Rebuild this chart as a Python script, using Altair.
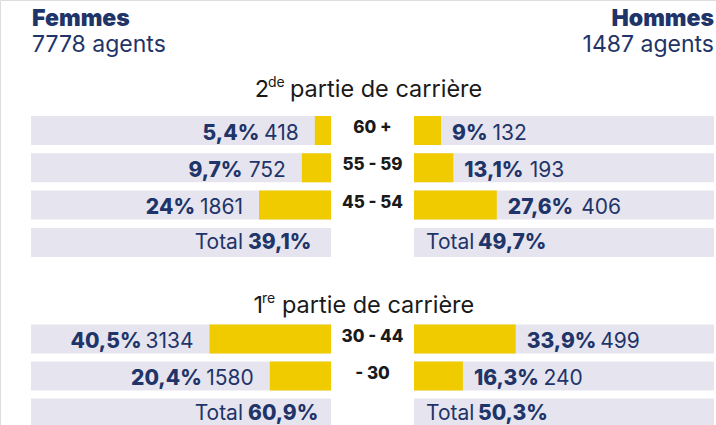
import altair as alt
import pandas as pd

# ---------------- data ----------------
ages = ["60 +", "55 - 59", "45 - 54", "30 - 44", "- 30"]
age_section = [0, 0, 0, 1, 1]
femmes_pct = [5.4, 9.7, 24.0, 40.5, 20.4]
femmes_n = [418, 752, 1861, 3134, 1580]
hommes_pct = [9.0, 13.1, 27.6, 33.9, 16.3]
hommes_n = [132, 193, 406, 499, 240]
femmes_total = [39.1, 60.9]
hommes_total = [49.7, 50.3]
section_num = ["2", "1"]
section_sup = ["de", "re"]
section_text = "partie de carrière"
femmes_header = ["Femmes", "7778 agents"]
hommes_header = ["Hommes", "1487 agents"]

# ---------------- layout ----------------
W, H = 716, 425
PX = 3.0               # pixels per percent
CENTER = 372.5         # pixel position of the centre axis
GAP = 41.5 / PX        # half gap between the two panels (percent units)
FIRST_ROW = [130.5, 339.0]
PITCH = [37.3, 37.0]
BAR_H = 29
NAVY = "#1f3468"
YELLOW = "#EFCB00"
PANEL = "#E6E5EF"
BLACK = "#1a1a1a"
FONT = "Inter"
VAL_SIZE = 21

BOLD_W = {"1": 9.5, ",": 6, "%": 22}
REG_W = {"1": 8.5}


def bold_w(s):
    return sum(BOLD_W.get(c, 13.5) for c in s)


def reg_w(s):
    return sum(REG_W.get(c, 12.5) for c in s)


def fmt(v):
    return ("%g" % v).replace(".", ",") + "%"


def u(px):  # pixel offset -> percent units
    return px / PX


rows_bg, rows_bar, texts = [], [], []
row_in_section = [0, 0]
for i, age in enumerate(ages):
    s = age_section[i]
    yc = FIRST_ROW[s] + PITCH[s] * row_in_section[s]
    row_in_section[s] += 1
    rows_bg.append(dict(x=-GAP - 100, x2=-GAP, y=yc - BAR_H / 2, y2=yc + BAR_H / 2))
    rows_bg.append(dict(x=GAP, x2=GAP + 100, y=yc - BAR_H / 2, y2=yc + BAR_H / 2))
    rows_bar.append(dict(x=-GAP - femmes_pct[i], x2=-GAP, y=yc - BAR_H / 2, y2=yc + BAR_H / 2))
    rows_bar.append(dict(x=GAP, x2=GAP + hommes_pct[i], y=yc - BAR_H / 2, y2=yc + BAR_H / 2))
    # left labels
    fp, fn = fmt(femmes_pct[i]), str(femmes_n[i])
    anchor = -GAP - femmes_pct[i] - u(16)
    texts.append(dict(kind="reg_r", x=anchor, y=yc + 9, t=fn))
    texts.append(dict(kind="bold_r", x=anchor - u(reg_w(fn) + 6), y=yc + 9, t=fp))
    # right labels
    hp, hn = fmt(hommes_pct[i]), str(hommes_n[i])
    anchor = GAP + hommes_pct[i] + u(11)
    texts.append(dict(kind="bold_l", x=anchor, y=yc + 9, t=hp))
    texts.append(dict(kind="reg_l", x=anchor + u(bold_w(hp) + 5), y=yc + 9, t=hn))
    # age label
    texts.append(dict(kind="age", x=0, y=yc + 2.5, t=age))

for s in range(2):
    yc = FIRST_ROW[s] + PITCH[s] * row_in_section[s]
    rows_bg.append(dict(x=-GAP - 100, x2=-GAP, y=yc - BAR_H / 2, y2=yc + BAR_H / 2))
    rows_bg.append(dict(x=GAP, x2=GAP + 100, y=yc - BAR_H / 2, y2=yc + BAR_H / 2))
    ft, ht = fmt(femmes_total[s]), fmt(hommes_total[s])
    texts.append(dict(kind="reg_r", x=u(243 - CENTER), y=yc + 6.5, t="Total"))
    texts.append(dict(kind="bold_l", x=u(248 - CENTER), y=yc + 6.5, t=ft))
    texts.append(dict(kind="reg_l", x=u(426 - CENTER), y=yc + 6.5, t="Total"))
    texts.append(dict(kind="bold_l", x=u(478 - CENTER), y=yc + 6.5, t=ht))

bg = pd.DataFrame(rows_bg)
bars = pd.DataFrame(rows_bar)
tx = pd.DataFrame(texts)

xs = alt.Scale(domain=[-CENTER / PX, (W - CENTER) / PX], range=[0, W], nice=False, zero=False)
ys = alt.Scale(domain=[0, H], range=[0, H], nice=False, zero=False)

X = alt.X("x:Q", scale=xs, axis=None)
Y = alt.Y("y:Q", scale=ys, axis=None)

bg_layer = alt.Chart(bg).mark_rect(color=PANEL).encode(X, alt.X2("x2:Q"), Y, alt.Y2("y2:Q"))
bar_layer = alt.Chart(bars).mark_rect(color=YELLOW).encode(X, alt.X2("x2:Q"), Y, alt.Y2("y2:Q"))


def text_layer(kind, **kw):
    return alt.Chart(tx).transform_filter(alt.datum.kind == kind).mark_text(
        font=FONT, baseline="alphabetic", **kw
    ).encode(X, Y, text="t:N")


layers = [
    bg_layer,
    bar_layer,
    text_layer("reg_r", align="right", fontSize=VAL_SIZE, color=NAVY),
    text_layer("bold_r", align="right", fontSize=VAL_SIZE, fontWeight=800, color=NAVY),
    text_layer("reg_l", align="left", fontSize=VAL_SIZE, color=NAVY),
    text_layer("bold_l", align="left", fontSize=VAL_SIZE, fontWeight=800, color=NAVY),
    text_layer("age", align="center", fontSize=17, fontWeight=800, color=BLACK),
]


def ann(text, x, y, size, align="left", weight="normal", color=BLACK):
    return alt.Chart(pd.DataFrame({"t": [text]})).mark_text(
        font=FONT, fontSize=size, fontWeight=weight, align=align, baseline="alphabetic", color=color
    ).encode(x=alt.value(x), y=alt.value(y), text="t:N")


# headers
layers += [
    ann(femmes_header[0], 32, 26, 23, weight=900, color=NAVY),
    ann(femmes_header[1], 32, 52, 23, color=NAVY),
    ann(hommes_header[0], 714, 26, 23, align="right", weight=900, color=NAVY),
    ann(hommes_header[1], 714, 52, 23, align="right", color=NAVY),
]
# section titles
title_geo = [(269, 97, 290), (263, 313, 282)]
for s in range(2):
    nx, by, tx0 = title_geo[s]
    layers += [
        ann(section_num[s], nx, by, 23.5, align="right"),
        ann(section_sup[s], nx - 1, by - 10, 14),
        ann(section_text, tx0, by, 23.5),
    ]

chart = alt.layer(*layers).properties(
    width=W, height=H, autosize=alt.AutoSizeParams(type="none"), padding=0
).configure_view(stroke=None).configure(background="white")

chart.save("out.html", embed_options={"renderer": "svg", "actions": False})
